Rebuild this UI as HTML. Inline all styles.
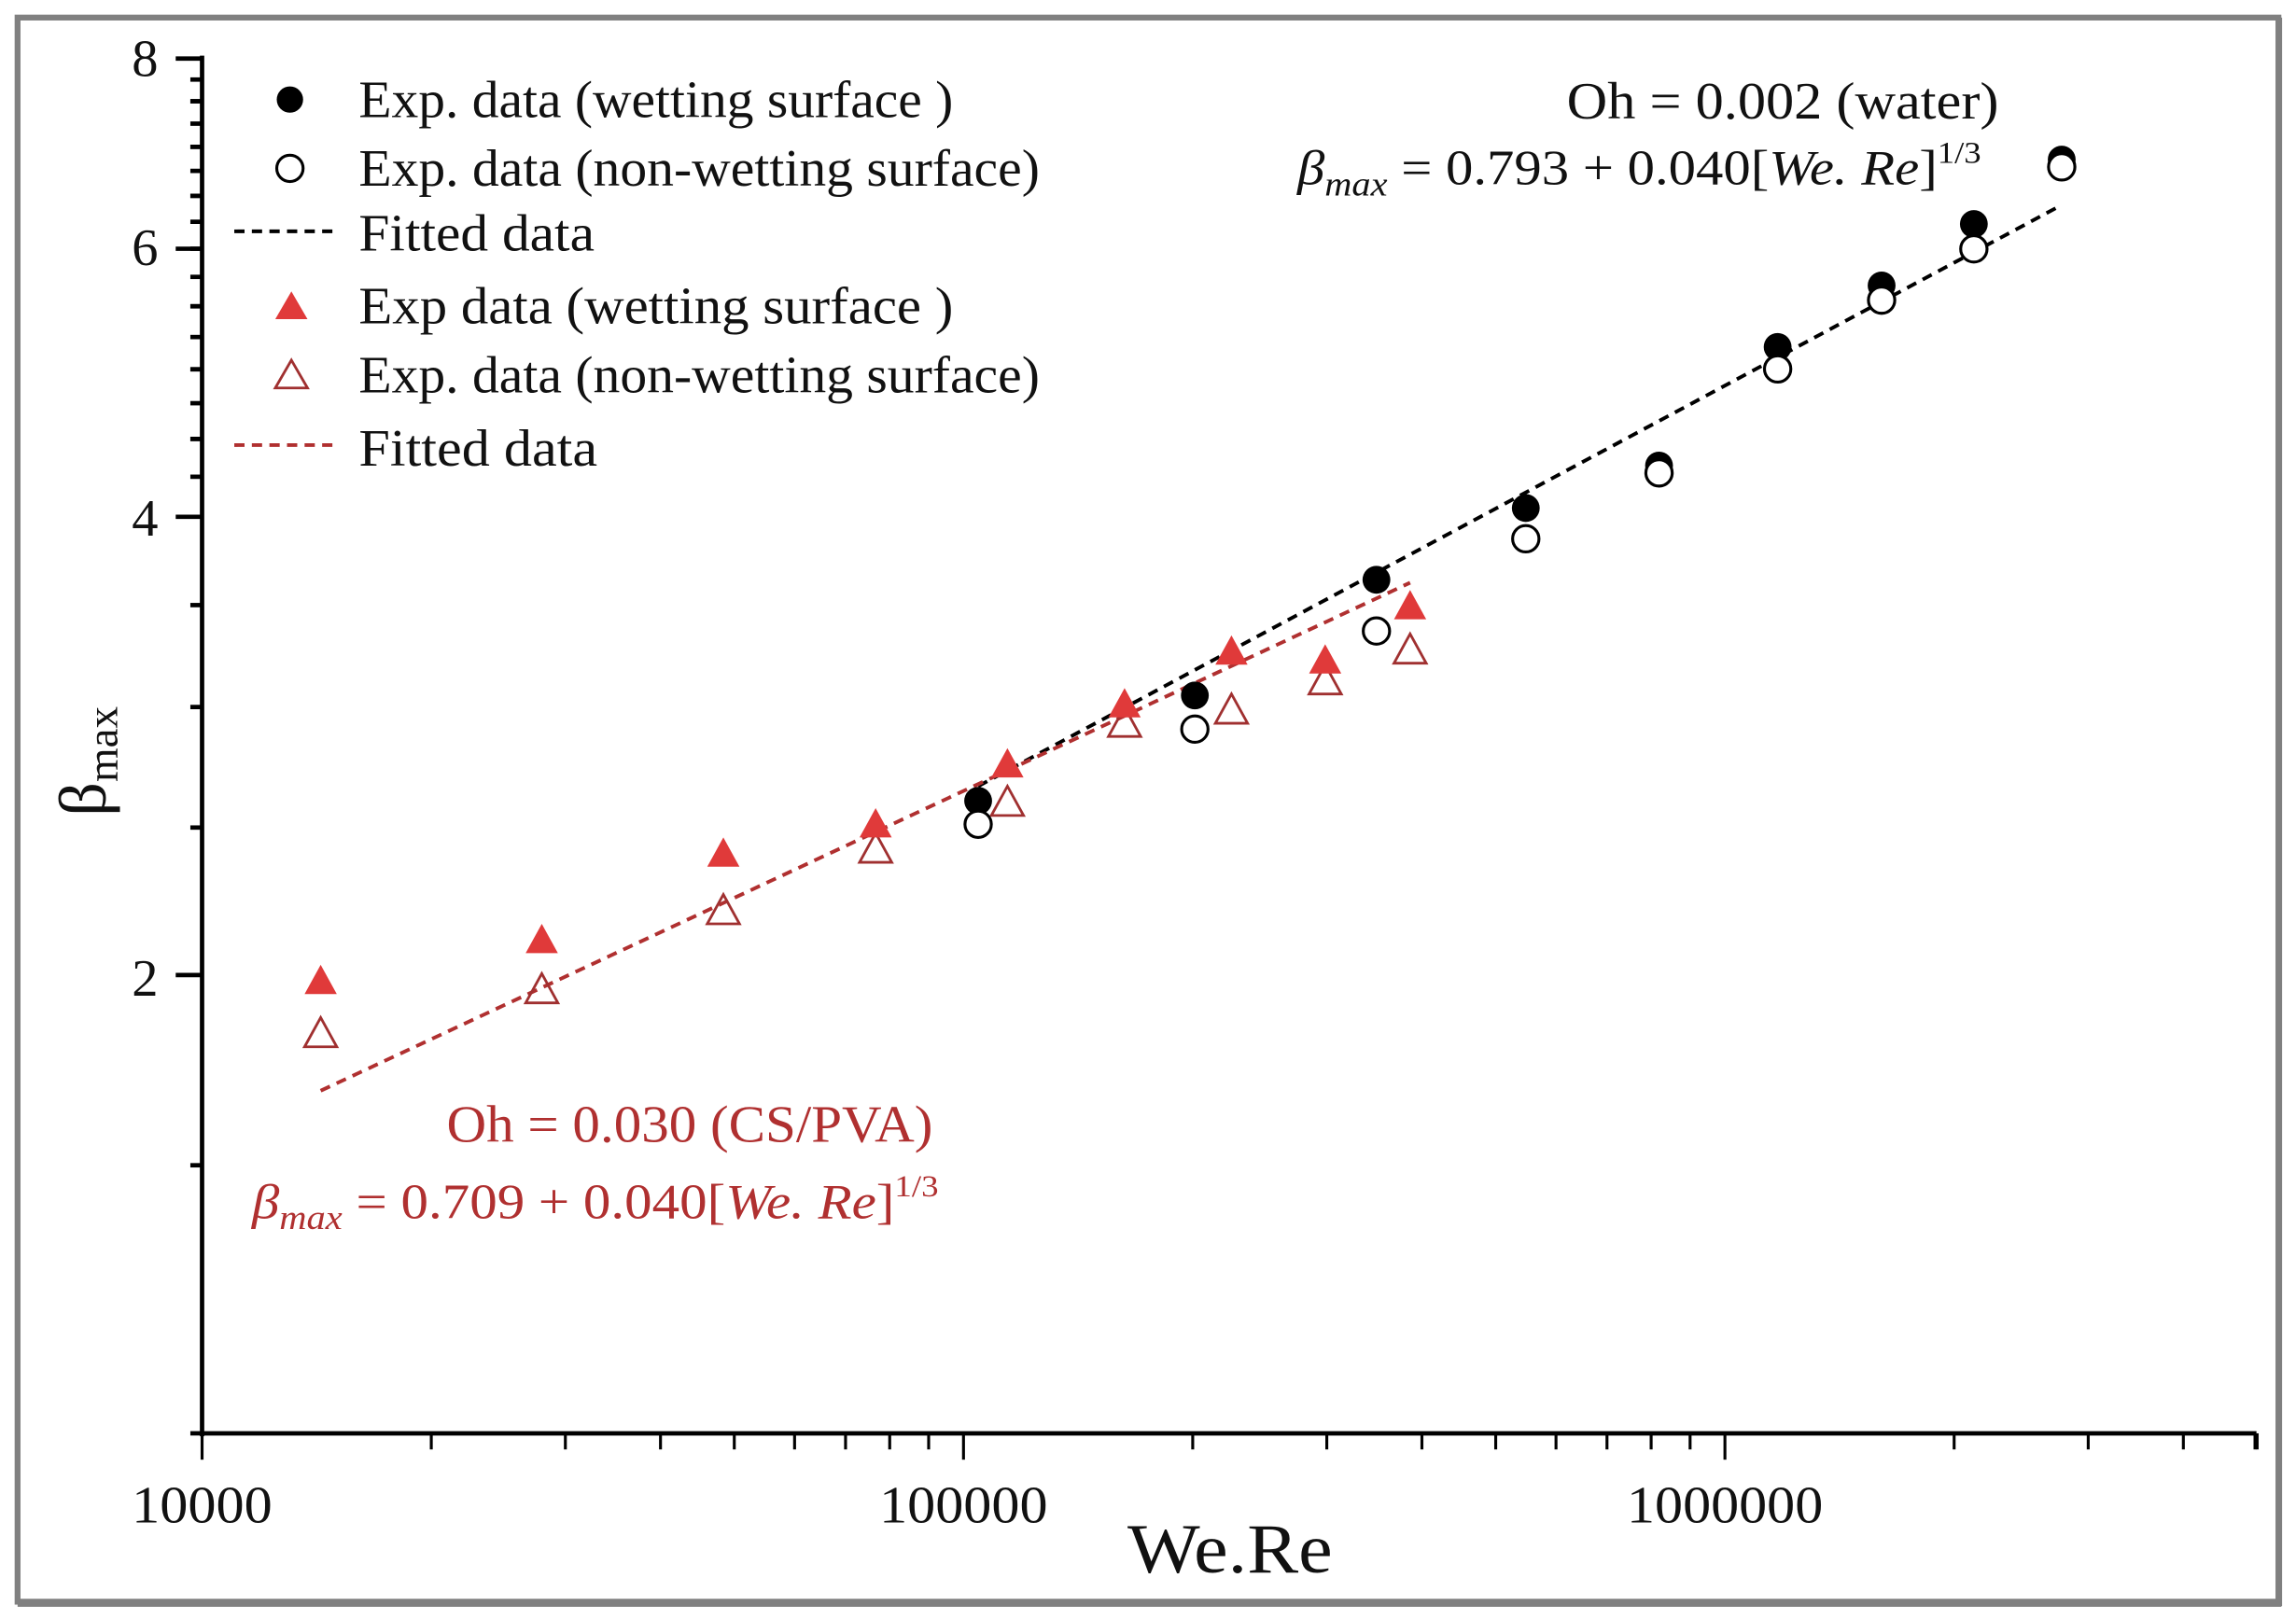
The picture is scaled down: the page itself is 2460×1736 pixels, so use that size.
<!DOCTYPE html>
<html><head><meta charset="utf-8"><style>html,body{margin:0;padding:0;background:#fff}svg{display:block}</style></head>
<body>
<svg width="2460" height="1736" viewBox="0 0 1568 1106.5" preserveAspectRatio="none" xmlns="http://www.w3.org/2000/svg" font-family="Liberation Serif, serif">
<rect x="0" y="0" width="1568" height="1106.5" fill="#fff"/>
<rect x="12" y="12" width="1544" height="1082" fill="none" stroke="#808080" stroke-width="4"/>
<line x1="12" y1="1095" x2="1558" y2="1095" stroke="#808080" stroke-width="5"/>
<line x1="1557" y1="12" x2="1557" y2="1097" stroke="#808080" stroke-width="3"/>
<line x1="138" y1="38" x2="138" y2="981" stroke="#000" stroke-width="3"/>
<line x1="137" y1="979" x2="1541" y2="979" stroke="#000" stroke-width="3"/>
<g stroke="#000" stroke-width="2" id="xt"></g>
<g stroke="#000" stroke-width="3" id="yt"></g>
<g font-size="36" text-anchor="end" fill="#111">
<text x="108" y="52">8</text><text x="108" y="181">6</text><text x="108" y="366">4</text><text x="108" y="680">2</text>
</g>
<g font-size="36" text-anchor="middle" fill="#111">
<text x="138" y="1040" textLength="96" lengthAdjust="spacingAndGlyphs">10000</text>
<text x="658" y="1040" textLength="115" lengthAdjust="spacingAndGlyphs">100000</text>
<text x="1178" y="1040" textLength="134" lengthAdjust="spacingAndGlyphs">1000000</text>
</g>
<text x="840" y="1074" font-size="48" text-anchor="middle" fill="#111" textLength="140" lengthAdjust="spacingAndGlyphs">We.Re</text>
<text transform="translate(72,520) rotate(-90)" font-size="46" text-anchor="middle" fill="#111">β<tspan font-size="30" dy="8">max</tspan></text>
<g font-size="36" fill="#111">
<circle cx="198" cy="68" r="9" fill="#000"/><text x="245" y="80" textLength="406" lengthAdjust="spacingAndGlyphs">Exp. data (wetting surface )</text>
<circle cx="198" cy="115" r="9" fill="none" stroke="#000" stroke-width="2"/><text x="245" y="127" textLength="465" lengthAdjust="spacingAndGlyphs">Exp. data (non-wetting surface)</text>
<line x1="160" y1="158" x2="232" y2="158" stroke="#000" stroke-width="2.5" stroke-dasharray="7,5"/><text x="245" y="171" textLength="161" lengthAdjust="spacingAndGlyphs">Fitted data</text>
<polygon points="199,199 210,218 188,218" fill="#e03a3a"/><text x="245" y="221" textLength="406" lengthAdjust="spacingAndGlyphs">Exp data  (wetting surface )</text>
<polygon points="199,246 210,265 188,265" fill="none" stroke="#a03030" stroke-width="1.8"/><text x="245" y="268" textLength="465" lengthAdjust="spacingAndGlyphs">Exp. data (non-wetting surface)</text>
<line x1="160" y1="304" x2="232" y2="304" stroke="#b03030" stroke-width="2.5" stroke-dasharray="7,5"/><text x="245" y="318" textLength="163" lengthAdjust="spacingAndGlyphs">Fitted data</text>
</g>
<g font-size="36" fill="#111">
<text x="1070" y="81" textLength="295" lengthAdjust="spacingAndGlyphs">Oh = 0.002 (water)</text>
<g transform="translate(886,126) scale(1.17,1.06)" font-size="32"><text x="0" y="0"><tspan font-style="italic">β</tspan><tspan font-style="italic" font-size="22" dy="7">max</tspan><tspan dy="-7"> = 0.793 + 0.040[</tspan><tspan font-style="italic">We. Re</tspan><tspan>]</tspan><tspan font-size="20" dy="-14">1/3</tspan></text></g>
</g>
<g font-size="36" fill="#b03030">
<text x="305" y="780" textLength="332" lengthAdjust="spacingAndGlyphs">Oh = 0.030 (CS/PVA)</text>
<g transform="translate(172,832) scale(1.175,1.06)" font-size="32"><text x="0" y="0"><tspan font-style="italic">β</tspan><tspan font-style="italic" font-size="22" dy="7">max</tspan><tspan dy="-7"> = 0.709 + 0.040[</tspan><tspan font-style="italic">We. Re</tspan><tspan>]</tspan><tspan font-size="20" dy="-14">1/3</tspan></text></g>
</g>
<line x1="668" y1="537" x2="1408" y2="140" stroke="#000" stroke-width="2.5" stroke-dasharray="7,5"/>
<line x1="219" y1="745" x2="963" y2="398" stroke="#b03030" stroke-width="2.5" stroke-dasharray="7,5"/>
<g id="pts"></g>
<script>
var ns="http://www.w3.org/2000/svg";
function el(p,t,a){var e=document.createElementNS(ns,t);for(var k in a)e.setAttribute(k,a[k]);document.getElementById(p).appendChild(e);}
for(var d=0;d<3;d++){for(var m=1;m<10;m++){var v=d+Math.log10(m);if(v>2.7)break;var x=138+520*v;el('xt','line',{x1:x,y1:979,x2:x,y2:(m==1?997:990)});}}
el('xt','line',{x1:1540,y1:979,x2:1540,y2:990});
function yp(v){return 40+313*Math.log2(8/v);}
for(var v=1;v<=8.001;v+=0.5){var y=yp(v);var maj=[2,4,6,8].indexOf(Math.round(v*10)/10)>=0;el('yt','line',{x1:maj?120:130,y1:y,x2:138,y2:y});}
for(var v=4.25;v<8;v+=0.25){var y=yp(v);el('yt','line',{x1:130,y1:y,x2:138,y2:y});}
var bf=[[668,547],[816,475],[940,396],[1042,347],[1133,318],[1214,237],[1285,195],[1348,153],[1408,109]];
var bo=[[668,563],[816,498],[940,431],[1042,368],[1133,323],[1214,252],[1285,205],[1348,170],[1408,114]];
var rf=[[219,670],[370,642],[494,583],[598,563],[688,522],[768,481],[841,445],[905,451],[963,414]];
var ro=[[219,706],[370,676],[494,622],[598,580],[688,548],[768,494],[841,485],[905,465],[963,444]];
function tri(c,y){return (c)+','+(y-11)+' '+(c+11)+','+(y+9)+' '+(c-11)+','+(y+9);}
ro.forEach(function(p){el('pts','polygon',{points:tri(p[0],p[1]),fill:'none',stroke:'#a03030','stroke-width':1.8});});
rf.forEach(function(p){el('pts','polygon',{points:tri(p[0],p[1]),fill:'#e03a3a'});});
bf.forEach(function(p){el('pts','circle',{cx:p[0],cy:p[1],r:9.5,fill:'#000'});});
bo.forEach(function(p){el('pts','circle',{cx:p[0],cy:p[1],r:9,fill:'#fff',stroke:'#000','stroke-width':2});});
</script>
</svg>
</body></html>
